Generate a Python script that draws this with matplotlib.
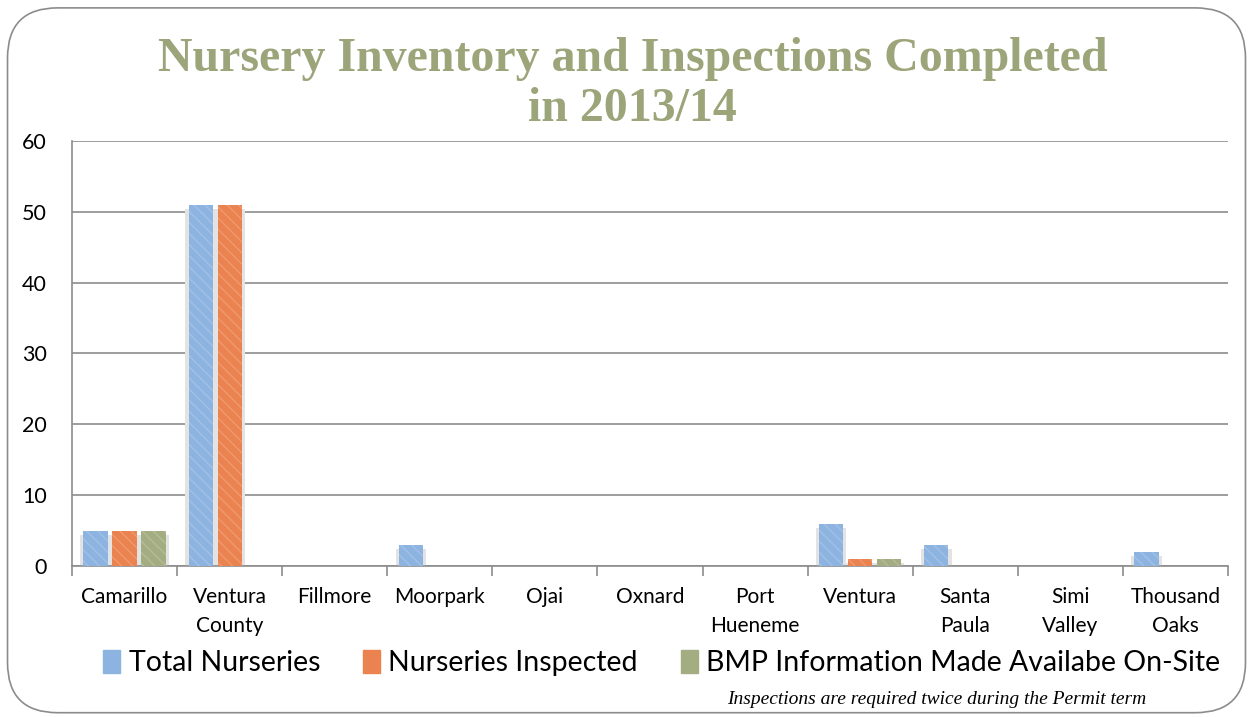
import numpy as np
import matplotlib
matplotlib.use('Agg')
import matplotlib.pyplot as plt
from matplotlib.patches import FancyBboxPatch, Rectangle

# --- Data ---
cities = ['Camarillo', 'Ventura\nCounty', 'Fillmore', 'Moorpark', 'Ojai', 'Oxnard',
          'Port\nHueneme', 'Ventura', 'Santa\nPaula', 'Simi\nValley', 'Thousand\nOaks']
total_nurseries = [5, 51, 0, 3, 0, 0, 0, 6, 3, 0, 2]
nurseries_inspected = [5, 51, 0, 0, 0, 0, 0, 1, 0, 0, 0]
bmp_onsite = [5, 0, 0, 0, 0, 0, 0, 1, 0, 0, 0]
series_names = ['Total Nurseries', 'Nurseries Inspected', 'BMP Information Made Availabe On-Site']
colors = ['#8db3e0', '#eb8350', '#a4ad82']

fig = plt.figure(figsize=(12.53, 7.17), dpi=100)

# rounded border round the whole chart
border = FancyBboxPatch((0.006, 0.006), 0.988, 0.983, boxstyle='round,pad=0,rounding_size=0.04',
                        transform=fig.transFigure, fill=False, edgecolor='#8c8c8c', lw=1.2,
                        mutation_aspect=1253 / 717)
fig.patches.append(border)

fig.text(0.505, 1 - 84 / 717, 'Nursery Inventory and Inspections Completed\nin 2013/14',
         ha='center', va='center', fontsize=34.5, fontweight='bold', family='Liberation Serif',
         color='#9ca47a', linespacing=1.2)

ax = fig.add_axes([72 / 1253, 1 - 566 / 717, (1228 - 72) / 1253, (566 - 141) / 717])

x = np.arange(len(cities))
w = 0.23
step = 0.276
for i, (vals, c) in enumerate(zip([total_nurseries, nurseries_inspected, bmp_onsite], colors)):
    bars = ax.bar(x + (i - 1) * step, vals, width=w, color=c, edgecolor='none', zorder=3,
                  label=series_names[i])
    for b in bars:
        if b.get_height() > 0:
            # soft shadow box behind bar
            sh = Rectangle((b.get_x() - 0.03, 0), b.get_width() + 0.06, b.get_height() - 0.6,
                           facecolor='#e3e3e3', edgecolor='none', zorder=2)
            ax.add_patch(sh)
            # faint diagonal stripes
            ax.bar(b.get_x() + b.get_width() / 2, b.get_height(), width=w, color='none',
                   edgecolor=(1, 1, 1, 0.18), hatch='\\\\\\', lw=0, zorder=4)

ax.set_xlim(-0.5, len(cities) - 0.5)
ax.set_ylim(0, 60)
ax.set_yticks(range(0, 61, 10))
ax.yaxis.grid(True, color='#8c8c8c', lw=1.2, zorder=0)
for s in ['top', 'right']:
    ax.spines[s].set_visible(False)
ax.spines['left'].set_color('#8c8c8c')
ax.spines['bottom'].set_color('#8c8c8c')
ax.spines['left'].set_linewidth(1.2)
ax.spines['bottom'].set_linewidth(1.2)
ax.tick_params(axis='y', length=0, labelsize=15.5, pad=18)
ax.set_xticks(x)
ax.set_xticklabels(cities, fontsize=15, family='Lato', linespacing=1.6, va='top')
ax.tick_params(axis='x', length=0, pad=15)
ax.set_xticks(np.arange(-0.5, len(cities)), minor=True)
ax.tick_params(axis='x', which='minor', length=7, color='#8c8c8c', width=1.2, direction='out')
for t in ax.get_yticklabels():
    t.set_family('Lato')

handles = [Rectangle((0, 0), 1, 1, color=c) for c in colors]
fig.legend(handles, series_names, loc='center', bbox_to_anchor=(0.528, 1 - 663 / 717), ncol=3,
           frameon=False, prop={'family': 'Lato', 'size': 20.5},
           handlelength=0.6, handleheight=0.9, handletextpad=0.3, columnspacing=1.5)

fig.text(0.915, 1 - 700 / 717, 'Inspections are required twice during the Permit term',
         ha='right', va='center', fontsize=14, style='italic', family='Liberation Serif')

fig.savefig('out.png', dpi=100)
